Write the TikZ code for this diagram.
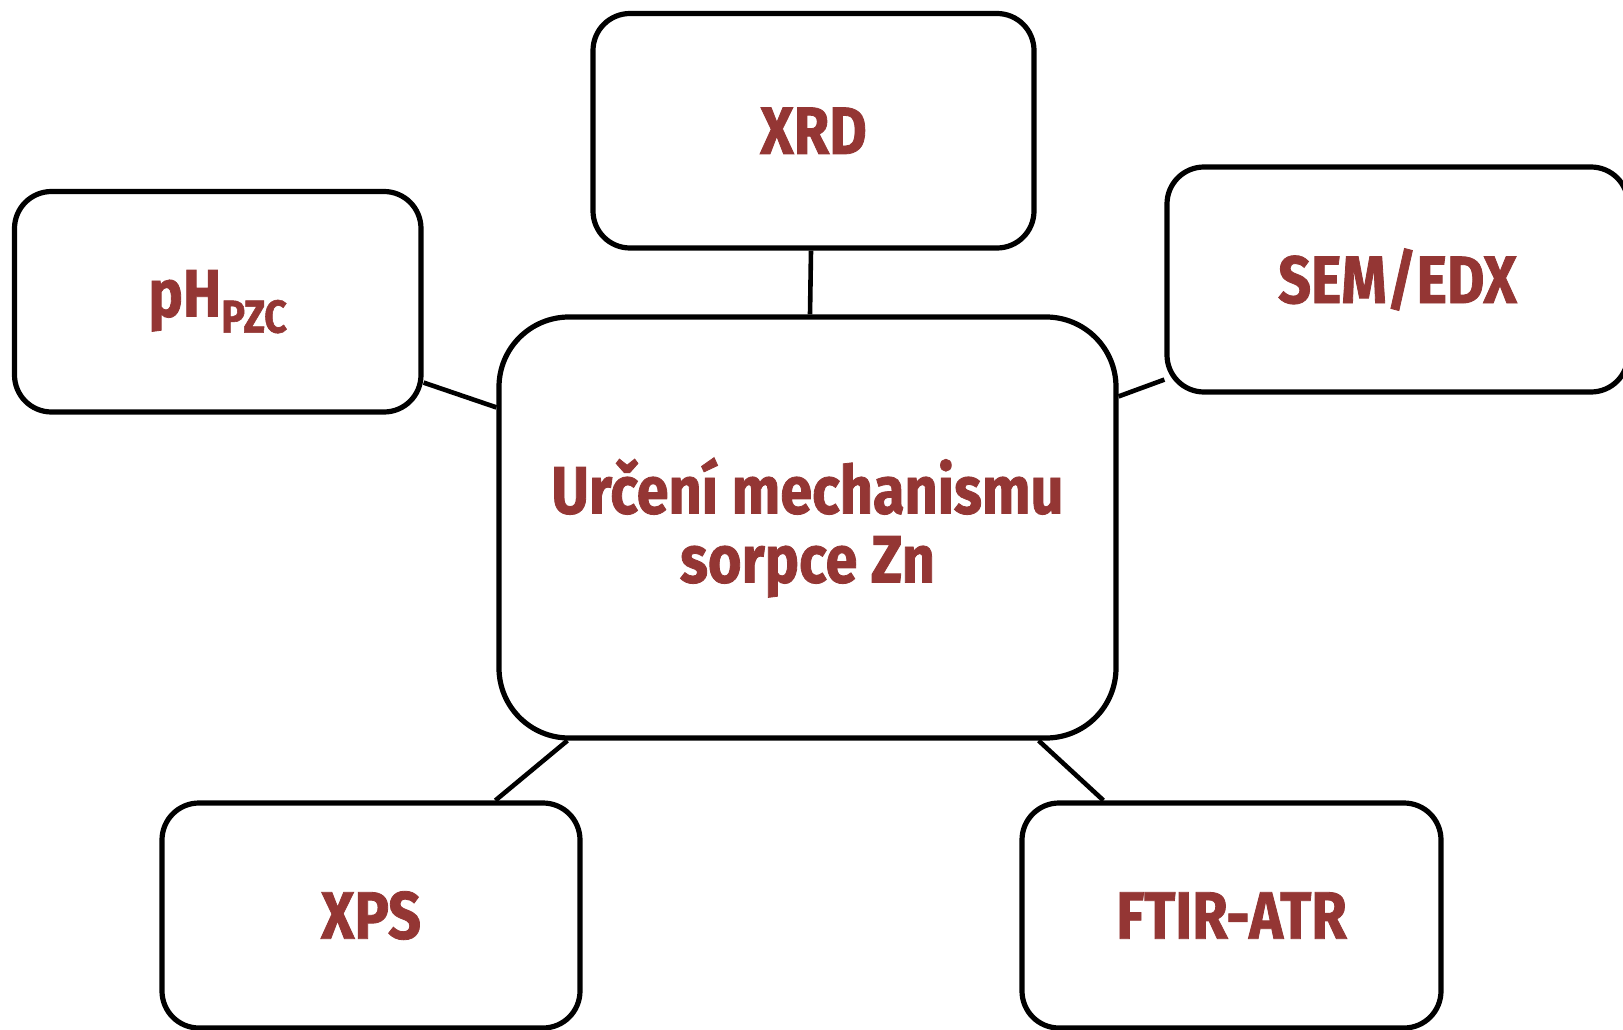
\documentclass[tikz,border=0pt]{standalone}
\usepackage{fontspec}
\setmainfont{Fira Sans}[FakeStretch=0.86,BoldFeatures={FakeBold=1.2}]
\definecolor{txtred}{RGB}{148,54,52}
\begin{document}
\begin{tikzpicture}[x=1pt,y=-1pt,
  box/.style={draw=black,line width=5.2pt,rounded corners=37pt,inner sep=0pt,fill=white,
    font=\fontsize{67}{69}\selectfont\bfseries,text=txtred,align=center},
  link/.style={draw=black,line width=4.6pt}]
\useasboundingbox[fill=white] (0,0) rectangle (1623,1030);
\node[box,rounded corners=70pt,minimum width=617pt,minimum height=421pt] (c) at (807.5,527.5) {Určení mechanismu\\sorpce Zn};
\node[box,minimum width=441pt,minimum height=234.5pt] (xrd) at (813.5,130.75) {XRD};
\node[box,minimum width=406.5pt,minimum height=220.5pt] (ph) at (217.75,301.75) {pH\raisebox{-16pt}{\fontsize{46}{46}\selectfont PZC}};
\node[box,minimum width=461pt,minimum height=225pt] (sem) at (1397.5,279.5) {SEM/EDX};
\node[box,minimum width=418pt,minimum height=225pt] (xps) at (371,915.5) {XPS};
\node[box,minimum width=419pt,minimum height=225pt] (ftir) at (1231.5,915.5) {FTIR-ATR};
\draw[link] ([xshift=-2.5pt]xrd.south) -- ([xshift=2.5pt]c.north);
\draw[link] ([yshift=32pt]ph.south east) -- ([yshift=-93pt]c.north west);
\draw[link] ([yshift=15pt]sem.south west) -- ([yshift=-82pt]c.north east);
\draw[link] ([xshift=71pt]c.south west) -- ([xshift=336pt]xps.north west);
\draw[link] ([xshift=-80pt]c.south east) -- ([xshift=84pt]ftir.north west);
\end{tikzpicture}
\end{document}
